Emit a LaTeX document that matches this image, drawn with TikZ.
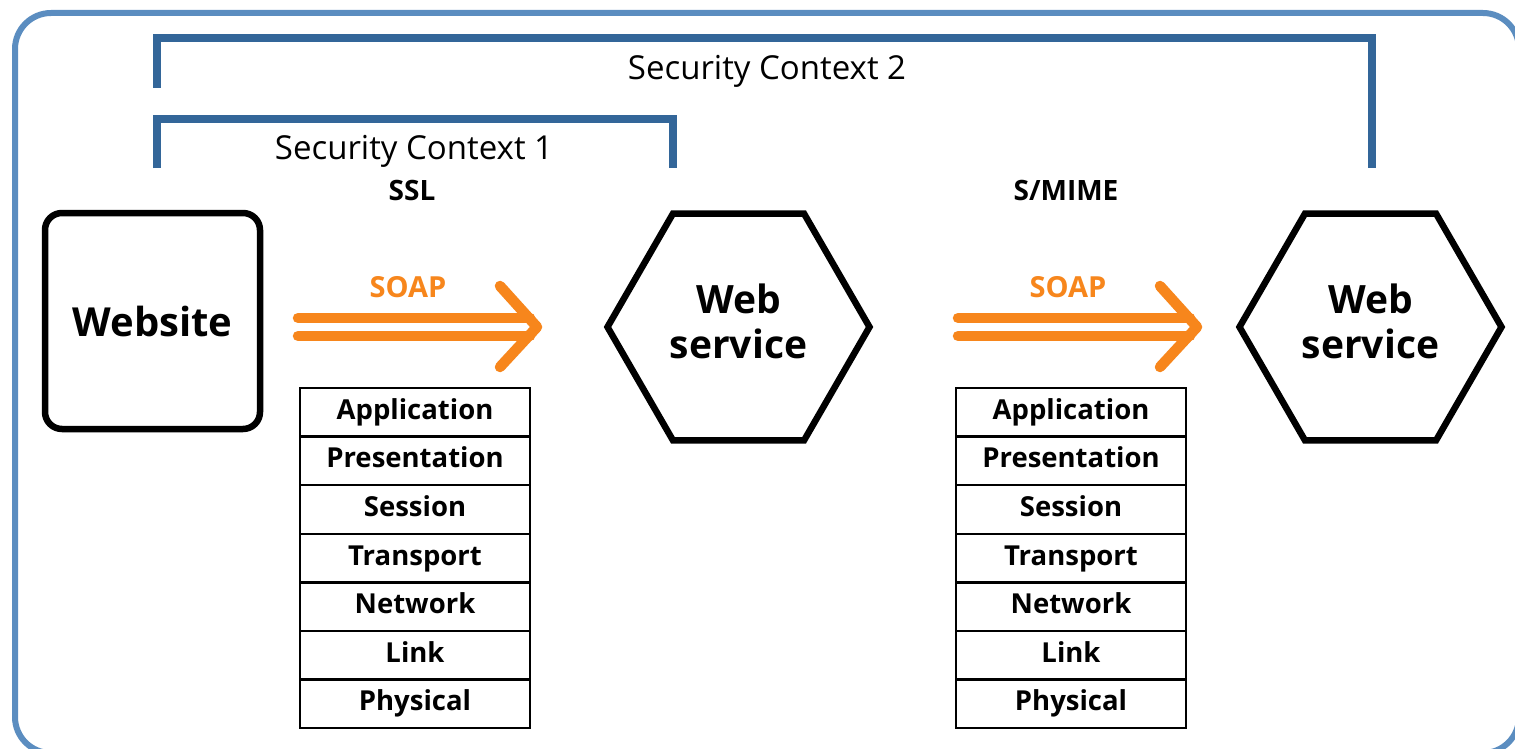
\documentclass[tikz,border=0pt]{standalone}
\usepackage{fontspec}
\setmainfont{Open Sans}
\usetikzlibrary{shapes.geometric}

\definecolor{framebl}{HTML}{5B8DC0}
\definecolor{ctxbl}{HTML}{336699}
\definecolor{soaporange}{HTML}{F7861C}

\tikzset{
  frameline/.style={draw=framebl, line width=6pt, rounded corners=36pt},
  bracket/.style={draw=ctxbl, line width=8pt},
  ctxlabel/.style={font=\fontsize{33}{38}\selectfont, inner sep=0pt, anchor=base},
  prot/.style={font=\bfseries\fontsize{28}{32}\selectfont, inner sep=0pt, anchor=base},
  soaplabel/.style={font=\bfseries\fontsize{29}{32}\selectfont, text=soaporange, inner sep=0pt, anchor=base},
  sitebox/.style={draw, line width=6.5pt, rounded corners=17pt, minimum width=215pt, minimum height=216pt,
    font=\bfseries\fontsize{40}{46}\selectfont},
  hexnode/.style={draw, line width=6.5pt, regular polygon, regular polygon sides=6, minimum size=262pt,
    inner sep=0pt, font=\bfseries\fontsize{39}{41}\selectfont, align=center},
  layer/.style={draw, line width=2.5pt, minimum width=230pt, minimum height=48.6pt, inner sep=0pt,
    text height=20pt, text depth=6pt, font=\bfseries\fontsize{27.5}{30}\selectfont},
  soap/.style={draw=soaporange, line width=10.5pt, line cap=round, line join=round},
}

\begin{document}
\begin{tikzpicture}[x=1pt, y=-1pt]
  \clip (0,0) rectangle (1515,749);
  \fill[white] (0,0) rectangle (1515,749);

  % outer frame
  \draw[frameline] (15,13) rectangle (1519,753);

  % security context brackets
  \coordinate (c2a) at (157,88);
  \coordinate (c2b) at (1372,168);
  \draw[bracket] (c2a) |- (1372,38) -- (c2b);
  \node[ctxlabel] (ctx2) at (767,80) {Security Context 2};

  \coordinate (c1a) at (157,168);
  \coordinate (c1b) at (673,168);
  \draw[bracket] (c1a) |- (673,119) -- (c1b);
  \node[ctxlabel] (ctx1) at (414,159) {Security Context 1};

  % protocol labels
  \node[prot] (ssl) at (412,200) {SSL};
  \node[prot] (smime) at (1066,200) {S/MIME};

  % endpoints
  \node[sitebox] (site) at (152.5,321) {Website};
  \node[hexnode] (ws1) at (738.5,327) {\raisebox{3pt}{\begin{tabular}{@{}c@{}}Web\\[3pt]service\end{tabular}}};
  \node[hexnode] (ws2) at (1370.5,327) {\raisebox{3pt}{\begin{tabular}{@{}c@{}}Web\\[3pt]service\end{tabular}}};

  % SOAP messages (the two shafts end inside the chevron)
  \coordinate (a1s) at (298,327);
  \coordinate (a1e) at (537,327);
  \draw[soap] ([shift={(0,-9)}]a1s) -- ([shift={(-7,-9)}]a1e);
  \draw[soap] ([shift={(0,9)}]a1s) -- ([shift={(-7,9)}]a1e);
  \draw[soap] ([shift={(-37,-41)}]a1e) -- (a1e) -- ([shift={(-37,40)}]a1e);
  \node[soaplabel] (soap1) at (408,297) {SOAP};

  \coordinate (a2s) at (958,327);
  \coordinate (a2e) at (1197,327);
  \draw[soap] ([shift={(0,-9)}]a2s) -- ([shift={(-7,-9)}]a2e);
  \draw[soap] ([shift={(0,9)}]a2s) -- ([shift={(-7,9)}]a2e);
  \draw[soap] ([shift={(-37,-41)}]a2e) -- (a2e) -- ([shift={(-37,40)}]a2e);
  \node[soaplabel] (soap2) at (1068,297) {SOAP};

  % protocol stacks
  \foreach \name/\cx in {s/415, t/1071} {
    \foreach \lbl [count=\i from 0] in {Application,Presentation,Session,Transport,Network,Link,Physical} {
      \node[layer] (\name\i) at (\cx, 412.3+48.6*\i) {\lbl};
    }
  }
\end{tikzpicture}
\end{document}
